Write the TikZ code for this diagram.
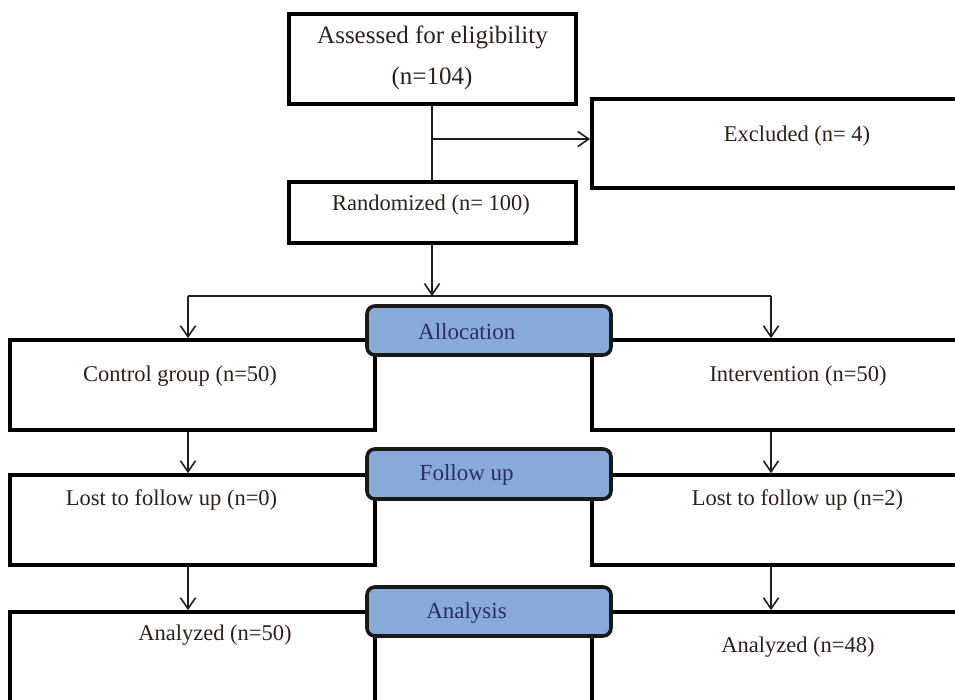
\documentclass[tikz,border=0pt]{standalone}
\usepackage{fontspec}
\setmainfont{Liberation Serif}
\usetikzlibrary{arrows.meta}
\definecolor{boxtext}{HTML}{2E2018}
\definecolor{labtext}{HTML}{2C2C6A}
\definecolor{labfill}{HTML}{88AAD8}
\definecolor{linecol}{HTML}{1E1E1E}
\begin{document}
\begin{tikzpicture}[x=1pt,y=-1pt,
  whitebox/.style={draw=black, fill=white, line width=3.6pt, rectangle, inner sep=0pt},
  labbox/.style={draw=black!90, fill=labfill, line width=3.6pt, rectangle, rounded corners=8pt, inner sep=0pt, minimum width=244pt, minimum height=49pt},
  boxtxt/.style={text=boxtext, font=\fontsize{22.5}{27}\selectfont, anchor=base, inner sep=0pt},
  labtxt/.style={text=labtext, font=\fontsize{23}{27}\selectfont, anchor=base, inner sep=0pt},
  conn/.style={draw=linecol, line width=1.6pt},
  arr/.style={conn, -{Straight Barb[length=11pt,width=15pt,line width=1.6pt]}}
]
\useasboundingbox (0,0) rectangle (955,700);
\clip (0,0) rectangle (955,700);
\fill[white] (0,0) rectangle (955,700);

% white boxes
\node[whitebox, minimum width=287pt, minimum height=90pt] (assess) at (432.5,59) {};
\node[whitebox, minimum width=287pt, minimum height=61pt] (rand) at (432.5,212.5) {};
\node[whitebox, minimum width=368pt, minimum height=89pt] (excl) at (776,143.5) {};
\node[whitebox, minimum width=365pt, minimum height=90pt] (ctrl) at (192.5,385) {};
\node[whitebox, minimum width=368pt, minimum height=90pt] (interv) at (776,385) {};
\node[whitebox, minimum width=365pt, minimum height=90pt] (lostL) at (192.5,520) {};
\node[whitebox, minimum width=368pt, minimum height=90pt] (lostR) at (776,520) {};
\node[whitebox, minimum width=365pt, minimum height=98pt] (anaL) at (192.5,661) {};
\node[whitebox, minimum width=368pt, minimum height=98pt] (anaR) at (776,661) {};

% rounded stage labels
\node[labbox] (alloc) at (489,330.5) {};
\node[labbox, minimum height=50pt] (follow) at (489,474) {};
\node[labbox] (analysis) at (489,611.5) {};

% texts
\node[boxtxt, font=\fontsize{25}{30}\selectfont] (t1) at (432.5,44) {Assessed for eligibility};
\node[boxtxt, font=\fontsize{25}{30}\selectfont] (t2) at (432,85) {(n=104)};
\node[boxtxt] (t3) at (431,211) {Randomized (n= 100)};
\node[boxtxt] (t4) at (797,142) {Excluded (n= 4)};
\node[boxtxt] (t5) at (180,381) {Control group (n=50)};
\node[boxtxt] (t6) at (798,381) {Intervention (n=50)};
\node[boxtxt] (t7) at (171.5,505) {Lost to follow up (n=0)};
\node[boxtxt] (t8) at (797.5,505) {Lost to follow up (n=2)};
\node[boxtxt] (t9) at (215,640) {Analyzed (n=50)};
\node[boxtxt] (t10) at (798,652) {Analyzed (n=48)};
\node[labtxt] (l1) at (466.7,339) {Allocation};
\node[labtxt] (l2) at (466.7,480) {Follow up};
\node[labtxt] (l3) at (466.5,618) {Analysis};

% connectors
\coordinate (j1) at (432,139);
\coordinate (split) at (432,296);
\coordinate (cL) at (188,296);
\coordinate (cR) at (771,296);
\draw[conn] (assess.south -| j1) -- (rand.north -| j1);
\draw[arr] (j1) -- (j1 -| excl.west);
\draw[arr] (rand.south -| split) -- (split);
\draw[conn, line width=1.3pt] (cL) -- (cR);
\draw[arr] (cL) -- (cL |- ctrl.north);
\draw[arr] (cR) -- (cR |- interv.north);
\draw[arr] (cL |- ctrl.south) -- (cL |- lostL.north);
\draw[arr] (cR |- interv.south) -- (cR |- lostR.north);
\draw[arr] (cL |- lostL.south) -- (cL |- anaL.north);
\draw[arr] (cR |- lostR.south) -- (cR |- anaR.north);
\end{tikzpicture}
\end{document}
